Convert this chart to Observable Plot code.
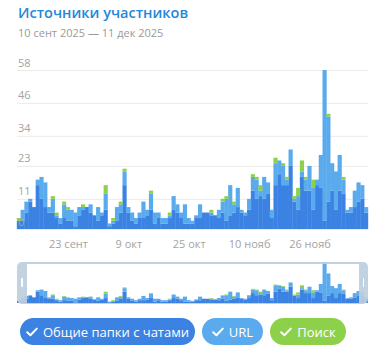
<!DOCTYPE html>
<html>
<head>
<meta charset="utf-8">
<script src="https://cdn.jsdelivr.net/npm/d3@7"></script>
<script src="https://cdn.jsdelivr.net/npm/@observablehq/plot@0.6"></script>
<style>
  body { margin: 0; background: #fff; font-family: "Open Sans", sans-serif; }
  #root { position: relative; width: 386px; height: 356px; overflow: hidden; }
  #title { position: absolute; left: 18px; top: 3px; font-size: 14.5px; font-weight: 600; color: #2388d8; white-space: nowrap; line-height: normal; }
  #sub { position: absolute; left: 18px; top: 25px; font-size: 11px; color: #9a9a9a; white-space: nowrap; line-height: normal; }
  #main { position: absolute; left: 0; top: 50px; }
  #mini { position: absolute; left: 17px; top: 262px; }
  .mm { position: absolute; background: rgba(190,206,222,0.92); }
  .grip { position: absolute; background: #fff; border-radius: 1px; }
  #legend { position: absolute; left: 20px; top: 318px; display: flex; gap: 7px; }
  .btn { height: 27px; border-radius: 14px; display: flex; align-items: center; justify-content: center; gap: 5px; color: #fff; font-size: 13px; box-sizing: border-box; white-space: nowrap; }
  .btn svg { display: block; }
</style>
</head>
<body>
<div id="root">
  <div id="title">Источники участников</div>
  <div id="sub">10 сент 2025 — 11 дек 2025</div>
  <div id="main"></div>
  <div id="mini"></div>
  <div class="mm" style="left:17px;top:262px;width:9.5px;height:42px;border-radius:5px 0 0 5px"></div>
  <div class="mm" style="left:358.5px;top:262px;width:9.5px;height:42px;border-radius:0 5px 5px 0"></div>
  <div class="mm" style="left:26.5px;top:262px;width:332px;height:1.5px"></div>
  <div class="mm" style="left:26.5px;top:302.5px;width:332px;height:1.5px"></div>
  <div class="grip" style="left:21.2px;top:278px;width:1.6px;height:9px"></div>
  <div class="grip" style="left:362.7px;top:278px;width:1.6px;height:9px"></div>
  <div id="legend"></div>
</div>
<script>
// ---- data ----
const startDay = "2025-09-10";
const dayCount = 93;
const seriesNames = ["Общие папки с чатами", "URL", "Поиск"];
const seriesColors = ["#3b82e3", "#5aaaee", "#8dd14a"];

const folders = [3,3,6,10,8,16,11,8,6,6, 4,2,4,3,3,1,5,7,8,6, 5,3,5,7,1,2,3,6,16,6,
  3,2,4,4,5,7,2,4,2,2, 4,7,6,4,2,2,2,4,4,6, 6,5,5,4,6,3,5,6,8,6,
  5,7,14,11,12,11,13,4,16,20, 16,16,23,10,7,19,14,14,7,16, 15,3,10,14,7,14,13,6,6,8,
  10,11,6];
const url = [0,4,4,1,0,2,8,9,2,5, 1,2,5,4,4,5,3,1,0,3, 0,5,1,6,1,1,5,3,5,2,
  3,2,2,6,2,6,4,2,2,2, 1,5,3,2,7,2,1,1,5,0, 0,1,0,3,4,8,11,3,7,1,
  1,4,5,7,2,8,4,3,8,5, 7,2,6,1,5,2,4,9,8,2, 12,55,31,10,14,13,5,1,2,6,
  7,5,2];
const search = [1,0,0,0,0,0,0,0,0,1, 1,0,1,1,0,0,0,1,0,0, 0,0,0,3,0,1,0,1,1,0,
  0,0,0,0,0,1,0,0,0,0, 1,0,0,0,0,0,0,0,0,0, 0,1,0,0,1,1,0,1,0,0,
  0,0,1,1,2,0,0,0,2,0, 1,1,0,1,3,4,1,0,3,0, 0,0,1,0,0,0,1,0,0,0,
  0,0,0];
const seriesValues = [folders, url, search];

const yTicks = [0, 11, 23, 34, 46, 58];
const xTickDays = ["2025-09-23", "2025-10-09", "2025-10-25", "2025-11-10", "2025-11-26"];
const xTickLabels = ["23 сент", "9 окт", "25 окт", "10 нояб", "26 нояб"];

// ---- build ----
const parse = d3.timeParse("%Y-%m-%d");
const start = parse(startDay);
const dates = d3.range(dayCount).map(i => d3.timeDay.offset(start, i));
const tickDates = xTickDays.map(parse);
const rows = [];
seriesNames.forEach((s, k) => seriesValues[k].forEach((v, i) => rows.push({date: dates[i], series: s, value: v})));

const font = "'Open Sans', sans-serif";
const main = Plot.plot({
  width: 386, height: 200,
  marginLeft: 17, marginRight: 18, marginTop: 20, marginBottom: 21,
  style: {fontFamily: font, background: "transparent", overflow: "visible"},
  x: {type: "band", domain: dates, padding: 0, axis: null},
  y: {domain: [0, 58], axis: null},
  color: {domain: seriesNames, range: seriesColors},
  marks: [
    Plot.ruleY(yTicks, {stroke: "#ebebeb", strokeWidth: 1}),
    Plot.barY(rows, {x: "date", y: "value", fill: "series", insetLeft: -0.2, insetRight: -0.2}),
    Plot.text(yTicks, {y: d => d, text: d => String(d), frameAnchor: "left", textAnchor: "start", lineAnchor: "bottom", dy: -4, dx: 0.5, fill: "#a3a3a3", fontSize: 11}),
    Plot.text(tickDates, {x: d => d, text: (d, i) => xTickLabels[i], frameAnchor: "bottom", lineAnchor: "bottom", dy: 18, fill: "#a3a3a3", fontSize: 11})
  ]
});
document.getElementById("main").appendChild(main);

const mini = Plot.plot({
  width: 351, height: 41,
  margin: 0,
  style: {background: "transparent"},
  x: {type: "band", domain: dates, padding: 0, axis: null},
  y: {domain: [0, 58], axis: null},
  color: {domain: seriesNames, range: seriesColors},
  marks: [
    Plot.barY(rows, {x: "date", y: "value", fill: "series", insetLeft: -0.15, insetRight: -0.15})
  ]
});
document.getElementById("mini").appendChild(mini);

// legend
const legend = document.getElementById("legend");
const widths = [175, 61, 76];
seriesNames.forEach((s, k) => {
  const b = document.createElement("div");
  b.className = "btn";
  b.style.background = seriesColors[k];
  b.style.width = widths[k] + "px";
  b.innerHTML = '<svg width="12" height="10" viewBox="0 0 12 10"><path d="M1.2 5.2 L4.4 8.3 L10.8 1.6" fill="none" stroke="#fff" stroke-width="2" stroke-linecap="round" stroke-linejoin="round"/></svg>';
  const t = document.createElement("span");
  t.textContent = s;
  b.appendChild(t);
  legend.appendChild(b);
});
</script>
</body>
</html>
